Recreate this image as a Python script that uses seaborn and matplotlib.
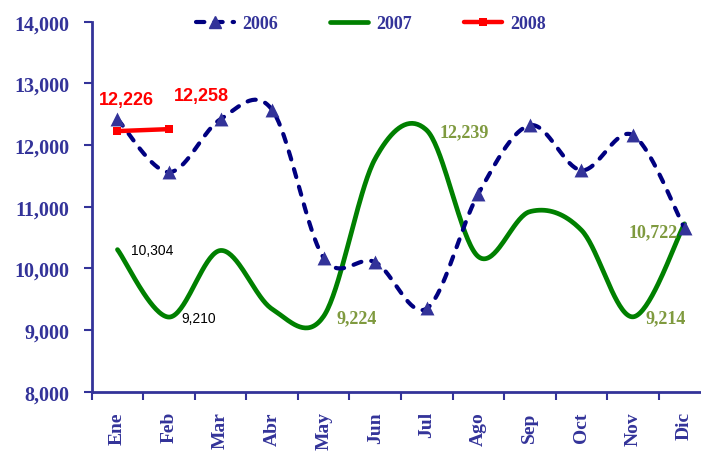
import numpy as np
import pandas as pd
import matplotlib
matplotlib.use("Agg")
import matplotlib.pyplot as plt
from matplotlib.lines import Line2D
import seaborn as sb

months = ["Ene", "Feb", "Mar", "Abr", "May", "Jun", "Jul", "Ago", "Sep", "Oct", "Nov", "Dic"]
v2006 = [12420, 11560, 12420, 12570, 10170, 10100, 9350, 11210, 12320, 11590, 12160, 10650]
v2007 = [10304, 9210, 10290, 9340, 9224, 11780, 12239, 10190, 10920, 10620, 9214, 10722]
v2008 = [12226, 12258]

# (month index, text, offset in px)
labels_2008 = [(0, "12,226", (9, 32)), (1, "12,258", (32, 34))]
labels_2007_small = [(0, "10,304", (35, 0)), (1, "9,210", (30, -1))]
labels_2007 = [(4, "9,224", (33, -2)), (6, "12,239", (37, -1)), (11, "10,722", (-31, -8)), (10, "9,214", (33, -1))]

NAVY = "#000080"
TXT = "#333399"
GREEN = "#008000"
OLIVE = "#7F9A3F"


def smooth(yv, n=40):
    # excel-like smoothed line (catmull-rom bezier through the points)
    x = np.arange(len(yv), dtype=float)
    y = np.array(yv, dtype=float)
    xs, ys = [], []
    for i in range(len(y) - 1):
        i0 = max(i - 1, 0)
        i3 = min(i + 2, len(y) - 1)
        p0 = np.array([x[i0], y[i0]])
        p1 = np.array([x[i], y[i]])
        p2 = np.array([x[i + 1], y[i + 1]])
        p3 = np.array([x[i3], y[i3]])
        c1 = p1 + (p2 - p0) / 6
        c2 = p2 - (p3 - p1) / 6
        t = np.linspace(0, 1, n)[:, None]
        b = (1 - t) ** 3 * p1 + 3 * (1 - t) ** 2 * t * c1 + 3 * (1 - t) * t ** 2 * c2 + t ** 3 * p2
        xs.extend(b[:, 0])
        ys.extend(b[:, 1])
    return pd.DataFrame({"x": xs, "y": ys})


sb.set_style("white")
fig = plt.figure(figsize=(7.01, 4.52), dpi=100)
ax = fig.add_axes([91.7 / 701, 59.3 / 452, 618.6 / 701, 370 / 452])

s06 = smooth(v2006)
s07 = smooth(v2007)
sb.lineplot(data=s07, x="x", y="y", sort=False, estimator=None, color=GREEN, linewidth=3.4, ax=ax)
sb.lineplot(data=s06, x="x", y="y", sort=False, estimator=None, color=NAVY, linewidth=3.0, ax=ax)
ax.lines[-1].set_dashes((2.0, 2.4))
ax.lines[-1].set_dash_capstyle("round")
sb.scatterplot(x=np.arange(12), y=v2006, marker="^", s=100, color=TXT, edgecolor=TXT, linewidth=0, ax=ax, zorder=4)
d08 = pd.DataFrame({"x": np.arange(len(v2008)), "y": v2008})
sb.lineplot(data=d08, x="x", y="y", color="#FF0000", linewidth=3.2, marker="s", markersize=6,
            markeredgewidth=0, ax=ax, zorder=5)

for i, txt, off in labels_2008:
    ax.annotate(txt, (i, v2008[i]), xytext=off, textcoords="offset pixels", ha="center", va="center",
                color="#FF0000", fontsize=13, fontweight="bold", family="Liberation Sans")
for i, txt, off in labels_2007_small:
    ax.annotate(txt, (i, v2007[i]), xytext=off, textcoords="offset pixels", ha="center", va="center",
                color="black", fontsize=10, family="Liberation Sans")
for i, txt, off in labels_2007:
    ax.annotate(txt, (i, v2007[i]), xytext=off, textcoords="offset pixels", ha="center", va="center",
                color=OLIVE, fontsize=13, fontweight="bold", family="Liberation Serif")

ax.set_xlim(-0.5, 11.5)
ax.set_ylim(8000, 14000)
ax.set_yticks(range(8000, 14001, 1000))
ax.set_yticklabels([f"{v:,}" for v in range(8000, 14001, 1000)], family="Liberation Serif",
                   fontsize=14.5, fontweight="bold", color=TXT)
ax.set_xticks(np.arange(-0.5, 12, 1))
ax.set_xticklabels([])
ax.set_xticks(np.arange(12), minor=True)
ax.set_xticklabels(months, minor=True, rotation=90, family="Liberation Serif", fontsize=14,
                   fontweight="bold", color=TXT)
ax.tick_params(axis="x", which="major", direction="out", length=6, width=1.5, color=TXT, bottom=True)
ax.tick_params(axis="x", which="minor", length=0, pad=14, bottom=True)
ax.tick_params(axis="y", direction="out", length=6, width=1.5, color=TXT, left=True, pad=10)
ax.set_xlabel("")
ax.set_ylabel("")
for side in ["top", "right"]:
    ax.spines[side].set_visible(False)
for side in ["left", "bottom"]:
    ax.spines[side].set_color(TXT)
    ax.spines[side].set_linewidth(2)

handles = [
    Line2D([], [], color=NAVY, linewidth=3.0, dashes=(2.0, 2.4), dash_capstyle="round",
           marker="^", markersize=9, markerfacecolor=TXT, markeredgecolor=TXT),
    Line2D([], [], color=GREEN, linewidth=3.4),
    Line2D([], [], color="#FF0000", linewidth=3.2, marker="s", markersize=6, markeredgewidth=0),
]
ax.legend(handles, ["2006", "2007", "2008"], loc="center", bbox_to_anchor=(0.4515, 0.994), ncol=3,
          frameon=False, handlelength=2.1, handletextpad=0.45, columnspacing=2.9,
          prop={"family": "Liberation Serif", "weight": "bold", "size": 13}, labelcolor=TXT)

plt.savefig("out.png", dpi=100)
